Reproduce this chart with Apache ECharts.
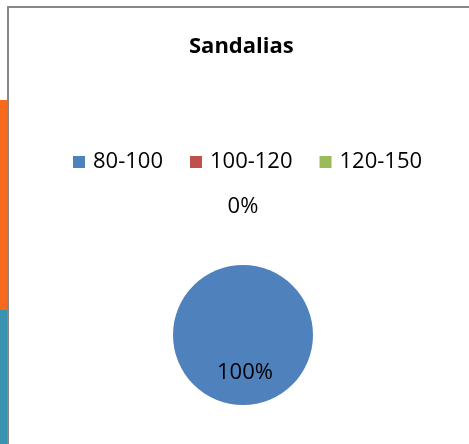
<!DOCTYPE html>
<html>
<head>
<meta charset="utf-8">
<script src="https://cdn.jsdelivr.net/npm/echarts@6/dist/echarts.min.js"></script>
<style>
    html, body { margin: 0; padding: 0; background: #fff; }
    #wrap { position: relative; width: 469px; height: 444px; overflow: hidden; }
    /* bits of the neighbouring slide visible on the left */
    .strip-orange { position: absolute; left: 0; top: 100px; width: 8px; height: 210px; background: #F7691D; }
    .strip-teal { position: absolute; left: 0; top: 310px; width: 8px; height: 134px; background: #3893AF; }
    .frame { position: absolute; left: 7px; top: 6px; width: 480px; height: 460px; border-left: 2px solid #888; border-top: 2px solid #888; box-sizing: border-box; }
    #main { position: absolute; left: 0; top: 0; width: 469px; height: 444px; }
</style>
</head>
<body>
<div id="wrap">
    <div class="strip-orange"></div>
    <div class="strip-teal"></div>
    <div class="frame"></div>
    <div id="main"></div>
</div>
<script>
    var chartTitle = "Sandalias";
    var categories = ["80-100", "100-120", "120-150"];
    var values = [100, 0, 0];
    var colors = ["#4F81BD", "#C0504D", "#9BBB59"];

    var fontName = "Open Sans";

    var firstZero = values.indexOf(0);
    var pieData = categories.map(function (name, i) {
        var item = { name: name, value: values[i], itemStyle: { color: colors[i] } };
        if (values[i] === 0) {
            // Excel stacks the empty slices' labels above the pie, one on top of the other
            item.label = { position: "outside", show: i === firstZero };
        }
        return item;
    });

    var chart = echarts.init(document.getElementById("main"));
    var option = {
        animation: false,
        title: {
            text: chartTitle,
            left: 184,
            top: 31,
            textStyle: {
                fontFamily: fontName,
                fontWeight: "bold",
                fontSize: 22,
                color: "#000"
            }
        },
        legend: {
            left: 68,
            top: 146,
            itemWidth: 12,
            itemHeight: 12,
            itemGap: 27,
            icon: "rect",
            textStyle: {
                fontFamily: fontName,
                fontSize: 22,
                color: "#000",
                padding: [0, 0, 0, 3]
            },
            data: categories
        },
        series: [{
            type: "pie",
            center: [243, 335],
            radius: 70,
            startAngle: 90,
            clockwise: true,
            stillShowZeroSum: true,
            silent: true,
            label: {
                show: true,
                position: "inside",
                formatter: "{d}%",
                fontFamily: fontName,
                fontSize: 22,
                color: "#000"
            },
            labelLine: {
                show: false,
                length: 58,
                length2: 0
            },
            labelLayout: function (params) {
                if (values[params.dataIndex] === 0) {
                    return { align: "center", dx: -5 };
                }
                return { dx: 2 };
            },
            data: pieData
        }]
    };
    chart.setOption(option);
</script>
</body>
</html>
